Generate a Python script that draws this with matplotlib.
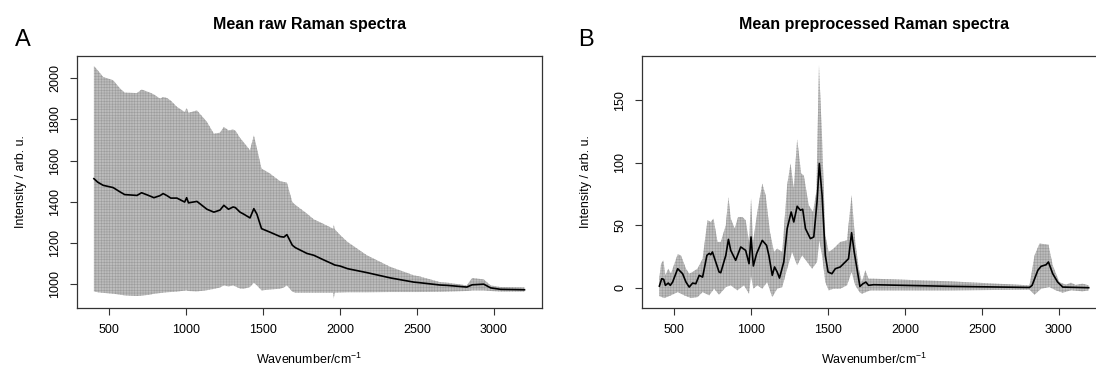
#!/usr/bin/env python3
# Mean raw vs. preprocessed Raman spectra (mean +/- spread band)

import numpy as np
import matplotlib
matplotlib.use("Agg")
import matplotlib.pyplot as plt

plt.rcParams['font.family'] = ['Liberation Sans', 'DejaVu Sans']
plt.rcParams['mathtext.fontset'] = 'custom'
plt.rcParams['mathtext.rm'] = 'Liberation Sans'
plt.rcParams['mathtext.it'] = 'Liberation Sans:italic'
plt.rcParams['hatch.linewidth'] = 0.4

# Panel A: raw spectra (wavenumber grid, mean, upper and lower band edge)
raw_wn = [400, 425, 460, 525, 570, 600, 680, 710, 765, 790, 830, 850, 875, 900,
          940, 990, 1003, 1015, 1070, 1135, 1180, 1220, 1245, 1275, 1305, 1320,
          1350, 1375, 1415, 1440, 1460, 1490, 1545, 1610, 1635, 1655, 1690, 1710,
          1785, 1830, 1890, 1955, 1960, 1965, 2000, 2050, 2175, 2330, 2480, 2520,
          2650, 2700, 2825, 2860, 2935, 2980, 3045, 3200]
raw_mean = [1512, 1495, 1480, 1469, 1448, 1435, 1431, 1444, 1428, 1420, 1430, 1440,
            1430, 1418, 1418, 1399, 1420, 1395, 1402, 1364, 1350, 1360, 1383, 1364,
            1375, 1372, 1350, 1340, 1322, 1367, 1340, 1270, 1253, 1232, 1229, 1241,
            1190, 1178, 1150, 1141, 1120, 1098, 1096, 1094, 1089, 1076, 1057, 1031,
            1011, 1008, 997, 995, 987, 998, 1001, 983, 976, 974]
raw_upper = [2058, 2037, 2005, 1989, 1949, 1929, 1927, 1944, 1929, 1920, 1900, 1908,
             1903, 1890, 1860, 1835, 1855, 1831, 1843, 1787, 1730, 1735, 1763, 1746,
             1750, 1745, 1710, 1687, 1650, 1722, 1658, 1561, 1537, 1500, 1496, 1493,
             1399, 1385, 1343, 1315, 1294, 1270, 1290, 1268, 1240, 1205, 1141, 1084,
             1044, 1038, 1011, 1008, 995, 1031, 1024, 995, 987, 985]
raw_lower = [966, 962, 959, 955, 950, 947, 944, 946, 950, 955, 958, 960, 962, 963,
             965, 970, 971, 968, 966, 972, 978, 985, 995, 990, 995, 990, 980, 979,
             987, 1008, 995, 971, 975, 979, 985, 995, 965, 960, 960, 960, 960, 960,
             931, 960, 961, 962, 962, 963, 963, 963, 964, 965, 968, 971, 971, 968,
             965, 965]

# Panel B: preprocessed spectra (mean, upper and lower edges read separately)
pre_mean_wn = [403, 418, 431, 442, 461, 474, 489, 522, 554, 576, 597, 619, 640, 662,
               684, 712, 727, 737, 748, 791, 802, 835, 852, 867, 899, 932, 964, 986,
               999, 1014, 1035, 1072, 1100, 1115, 1137, 1152, 1169, 1184, 1212, 1234,
               1260, 1277, 1299, 1320, 1335, 1353, 1385, 1407, 1428, 1443, 1461, 1482,
               1500, 1525, 1547, 1579, 1612, 1633, 1653, 1670, 1707, 1727, 1746, 1763,
               1796, 2292, 2810, 2827, 2864, 2885, 2918, 2933, 2961, 2993, 3026, 3195]
pre_mean = [1.3, 7.2, 6.7, 1.9, 3.7, 1.9, 4.5, 15.2, 11.2, 4.5, 0.5, 3.7, 3.2, 9.9,
            8.5, 25.9, 27.5, 26.4, 28.6, 12.6, 12.0, 25.9, 38.7, 29.9, 21.9, 32.6,
            29.9, 19.2, 40.6, 17.4, 27.2, 37.9, 33.9, 25.9, 9.9, 16.6, 12.6, 7.7,
            20.6, 47.3, 60.6, 52.6, 65.2, 62.0, 62.8, 47.3, 39.3, 40.6, 68.6, 99.4,
            74.0, 25.9, 12.6, 11.2, 15.2, 16.6, 20.6, 23.2, 44.0, 28.6, 1.0, 3.2,
            4.5, 1.9, 2.4, 1.1, 0.2, 1.9, 13.9, 17.1, 18.4, 20.6, 11.2, 4.5, 0.5, 0.0]

pre_upper_wn = [403, 414, 429, 442, 461, 478, 522, 543, 576, 597, 619, 651, 684, 716,
                737, 755, 781, 802, 835, 852, 867, 893, 915, 943, 964, 986, 999, 1012,
                1040, 1072, 1094, 1122, 1148, 1169, 1202, 1234, 1256, 1277, 1299, 1325,
                1342, 1374, 1402, 1424, 1441, 1461, 1482, 1504, 1536, 1579, 1623, 1653,
                1677, 1700, 1720, 1742, 1763, 1796, 2292, 2810, 2843, 2875, 2933, 2961,
                3004, 3047, 3080, 3110, 3155, 3195]
pre_upper = [8.0, 19.2, 21.9, 9.9, 15.2, 11.2, 26.7, 25.9, 15.2, 11.2, 12.6, 15.2,
             23.2, 54.0, 52.6, 55.3, 36.6, 36.6, 49.9, 72.6, 55.3, 47.3, 56.6, 56.6,
             54.0, 36.6, 71.3, 36.6, 60.6, 83.3, 74.0, 44.6, 28.6, 31.3, 28.6, 82.0,
             99.4, 79.3, 118.9, 91.3, 90.0, 66.0, 60.6, 76.7, 178.0, 119.4, 41.9, 28.6,
             31.3, 36.6, 37.9, 74.0, 36.6, 15.2, 4.5, 13.9, 7.2, 7.2, 5.1, 1.9, 25.9,
             35.3, 34.5, 17.9, 4.5, 2.4, 4.0, 2.2, 3.2, 1.9]

pre_lower_wn = [403, 435, 478, 522, 565, 608, 651, 684, 727, 759, 791, 835, 867, 910,
                953, 986, 999, 1014, 1040, 1072, 1104, 1137, 1169, 1202, 1234, 1266,
                1299, 1331, 1364, 1396, 1428, 1443, 1461, 1482, 1504, 1536, 1579, 1623,
                1653, 1677, 1705, 1720, 1774, 2292, 2810, 2843, 2885, 2939, 2982, 3026,
                3080, 3155, 3195]
pre_lower = [-6.7, -8.3, -6.1, -3.5, -6.1, -8.3, -7.5, -3.5, -6.1, -0.8, -5.6, 0.5,
             1.9, -2.1, 1.9, -4.8, 9.9, -0.8, 1.9, -0.8, 4.5, -7.5, -0.8, 0.5, 15.2,
             28.6, 17.9, 25.9, 20.6, 15.2, 20.6, 37.9, 25.9, 4.5, -2.1, -0.8, -0.8,
             1.9, 12.6, 1.9, -3.5, -4.8, -2.1, -2.1, -1.6, -5.6, -0.8, 0.5, -2.1, -4.0,
             -2.0, -2.9, -2.1]

raw_yticks = [1000, 1200, 1400, 1600, 1800, 2000]
pre_yticks = [0, 50, 100, 150]
xticks = [500, 1000, 1500, 2000, 2500, 3000]

band_face = '#bcbcbc'
band_hatch = '#9c9c9c'
box_col = '#333333'

W, H = 1096, 371
fig = plt.figure(figsize=(W / 100, H / 100), dpi=100)

# axes boxes in pixels (left, top, right, bottom); panel B runs past the right edge
boxes = [(76.7, 55.7, 541.7, 307.7), (641.7, 55.7, 1106.7, 307.7)]
axs = []
for (l, t, r, b) in boxes:
    axs.append(fig.add_axes([l / W, (H - b) / H, (r - l) / W, (b - t) / H]))

axA, axB = axs

# Panel A
axA.fill_between(raw_wn, raw_lower, raw_upper, facecolor=band_face,
                 edgecolor=band_hatch, hatch='++++++', lw=0)
axA.plot(raw_wn, raw_mean, color='black', lw=1.2)
axA.set_ylim(887, 2108)
axA.set_yticks(raw_yticks)

# Panel B
poly_x = np.concatenate([pre_upper_wn, pre_lower_wn[::-1]])
poly_y = np.concatenate([pre_upper, pre_lower[::-1]])
axB.fill(poly_x, poly_y, facecolor=band_face, edgecolor=band_hatch,
         hatch='++++++', lw=0)
axB.plot(pre_mean_wn, pre_mean, color='black', lw=1.2)
axB.set_ylim(-16, 185.7)
axB.set_yticks(pre_yticks)

for ax in axs:
    ax.set_xlim(288, 3312)
    ax.set_xticks(xticks)
    for s in ax.spines.values():
        s.set_color(box_col)
        s.set_linewidth(0.9)
    ax.tick_params(axis='both', direction='out', length=5, width=0.8,
                   color=box_col, labelsize=9)
    ax.tick_params(axis='x', pad=6.5)
    ax.tick_params(axis='y', pad=6, labelrotation=90)
    for lab in ax.get_yticklabels():
        lab.set_va('center')

# Titles, panel letters and axis labels (placed in pixels)
titles = ['Mean raw Raman spectra', 'Mean preprocessed Raman spectra']
letters = ['A', 'B']
letter_x = [22.5, 586]
for i, (l, t, r, b) in enumerate(boxes):
    cx = (l + r) / 2
    fig.text(cx / W, 1 - 29.5 / H, titles[i], ha='center', va='baseline',
             fontsize=11.5, fontweight='bold')
    fig.text(letter_x[i] / W, 1 - 45.5 / H, letters[i], ha='center',
             va='baseline', fontsize=17)
    fig.text(cx / W, 1 - 364 / H, r'Wavenumber/cm$^{-1}$', ha='center',
             va='baseline', fontsize=9)
    fig.text((l - 56) / W, 1 - (t + b) / 2 / H, 'Intensity / arb. u.',
             ha='center', va='center', rotation=90, fontsize=9)

fig.savefig('out.png', dpi=100)
